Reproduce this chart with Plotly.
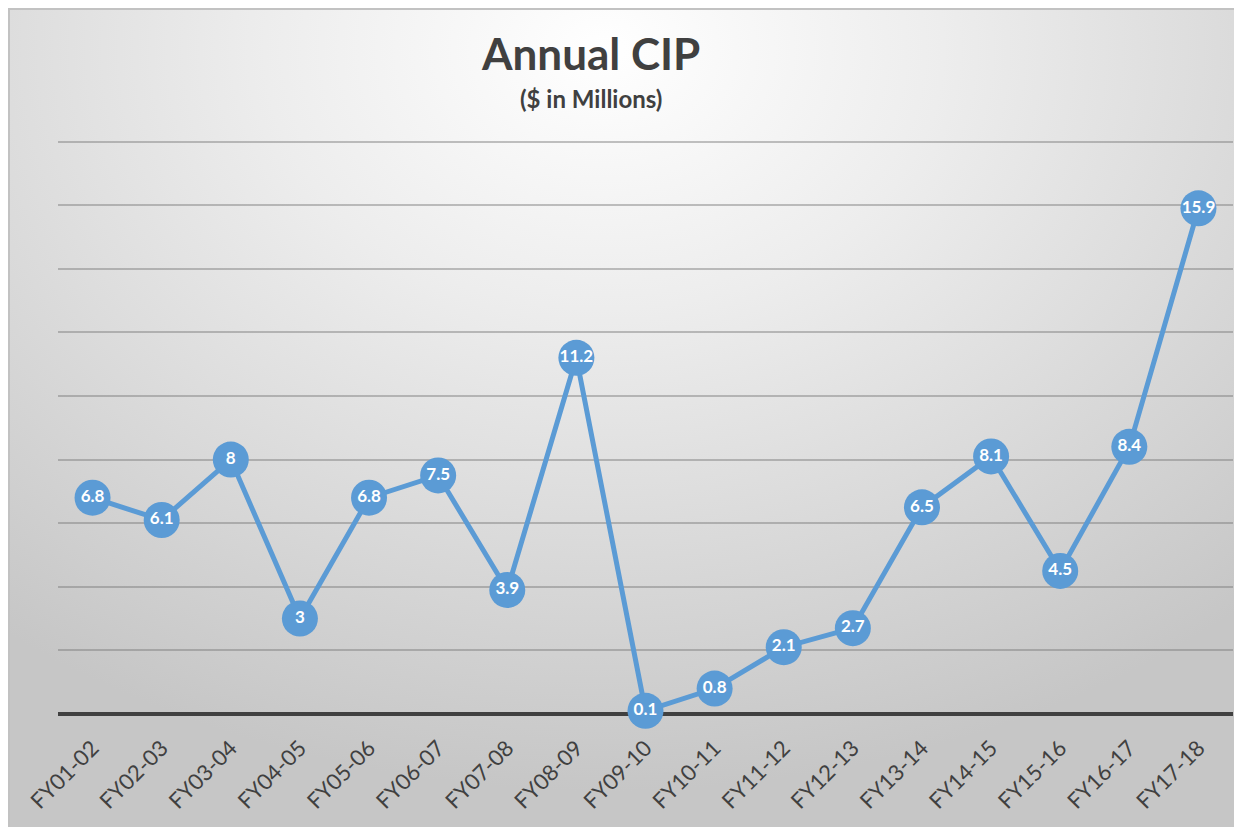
import base64
import plotly.graph_objects as go

categories = ["FY01-02", "FY02-03", "FY03-04", "FY04-05", "FY05-06", "FY06-07",
              "FY07-08", "FY08-09", "FY09-10", "FY10-11", "FY11-12", "FY12-13",
              "FY13-14", "FY14-15", "FY15-16", "FY16-17", "FY17-18"]
values = [6.8, 6.1, 8, 3, 6.8, 7.5, 3.9, 11.2, 0.1, 0.8, 2.1, 2.7, 6.5, 8.1, 4.5, 8.4, 15.9]
labels = ["6.8", "6.1", "8", "3", "6.8", "7.5", "3.9", "11.2", "0.1", "0.8", "2.1",
          "2.7", "6.5", "8.1", "4.5", "8.4", "15.9"]
y_ticks = [0, 2, 4, 6, 8, 10, 12, 14, 16, 18]

W, H = 1242, 827
L, R, T, B = 50, 1225, 124, 706
pw, ph = R - L, B - T

svg = (
    f'<svg xmlns="http://www.w3.org/2000/svg" width="{W}" height="{H}" viewBox="0 0 {W} {H}" preserveAspectRatio="none">'
    '<defs><radialGradient id="g" cx="0.48" cy="0.05" r="0.78" gradientTransform="translate(0.48,0.05) scale(1,1.15) translate(-0.48,-0.05)">'
    '<stop offset="0" stop-color="#ffffff"/>'
    '<stop offset="0.35" stop-color="#ededed"/>'
    '<stop offset="1" stop-color="#c6c6c6"/>'
    '</radialGradient></defs>'
    f'<rect x="0" y="0" width="{W}" height="{H}" fill="url(#g)"/></svg>'
)
src = "data:image/svg+xml;base64," + base64.b64encode(svg.encode()).decode()

def px_x(x):
    return (x - L) / pw

def px_y(y):
    return (B - y) / ph

fig = go.Figure()
fig.add_trace(go.Scatter(
    x=categories, y=values, text=labels,
    mode="lines+markers+text",
    line=dict(color="#5b9bd5", width=5),
    marker=dict(size=36, color="#5b9bd5"),
    textposition="middle center",
    textfont=dict(family="Lato", size=17, color="white", weight="bold"),
    cliponaxis=False,
    hoverinfo="skip",
))

fig.update_layout(
    width=W, height=H,
    margin=dict(l=L, r=W - R, t=T, b=H - B, autoexpand=False),
    paper_bgcolor="white",
    plot_bgcolor="rgba(0,0,0,0)",
    showlegend=False,
    xaxis=dict(
        type="category", range=[-0.5, len(categories) - 0.5],
        showgrid=False, showline=False, ticks="",
        tickangle=-45, ticklabelstandoff=16,
        tickfont=dict(family="Lato", size=22, color="#404040"),
    ),
    yaxis=dict(
        range=[0, 18.3], tickvals=y_ticks, showticklabels=False,
        showgrid=True, gridcolor="rgba(120,120,120,0.45)", gridwidth=2,
        zeroline=True, zerolinecolor="#404040", zerolinewidth=4,
        showline=False, ticks="",
    ),
    images=[dict(
        source=src, xref="paper", yref="paper",
        x=px_x(0), y=px_y(0), sizex=W / pw, sizey=H / ph,
        xanchor="left", yanchor="top", sizing="stretch", layer="below",
    )],
    shapes=[dict(
        type="rect", xref="paper", yref="paper",
        x0=px_x(1), x1=px_x(W - 1), y0=px_y(H - 1), y1=px_y(1),
        line=dict(color="#c2c2c2", width=2), fillcolor="rgba(0,0,0,0)", layer="above",
    )],
    annotations=[
        dict(text="<b>Annual CIP</b>", xref="paper", yref="paper",
             x=px_x(582), y=px_y(45), showarrow=False,
             xanchor="center", yanchor="middle",
             font=dict(family="Lato", size=44, color="#404040")),
        dict(text="<b>($ in Millions)</b>", xref="paper", yref="paper",
             x=px_x(583), y=px_y(90), showarrow=False,
             xanchor="center", yanchor="middle",
             font=dict(family="Lato", size=24, color="#404040")),
    ],
)

fig.write_html("out.html")
